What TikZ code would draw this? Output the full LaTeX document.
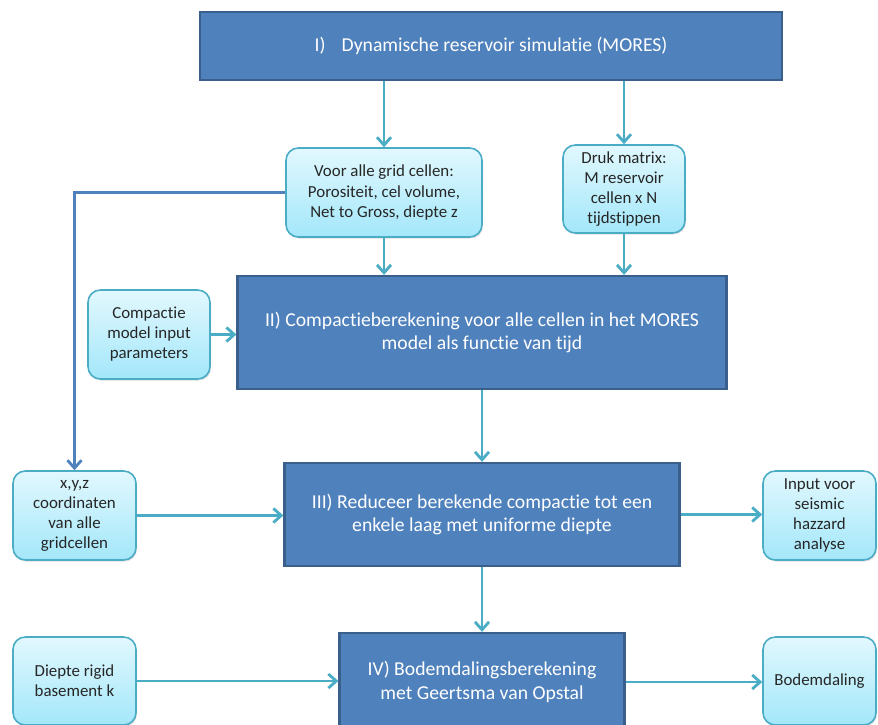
\documentclass[tikz,border=0pt]{standalone}
\usepackage{fontspec}
\setmainfont[Ligatures=NoCommon]{Carlito}
\usepackage{tikz}
\usetikzlibrary{arrows.meta,shadows}

\definecolor{stepblue}{HTML}{4F81BD}
\definecolor{stepedge}{HTML}{3A5F8C}
\definecolor{inputtop}{HTML}{E2F8FE}
\definecolor{inputbot}{HTML}{A3E7FA}
\definecolor{inputedge}{HTML}{4BACC6}
\definecolor{flowcol}{HTML}{4BACC6}

\begin{document}
\begin{tikzpicture}[x=0.02cm, y=-0.02cm,
  stepbox/.style={draw=stepedge, line width=1.3pt, fill=stepblue, text=white,
    align=center, font=\fontsize{11.2}{13.6}\selectfont, inner sep=0pt},
  inputbox/.style={draw=inputedge, line width=0.9pt, rounded corners=7pt,
    top color=inputtop, bottom color=inputbot, align=center,
    font=\fontsize{9.6}{11.4}\selectfont, inner sep=0pt, text=black!85,
    drop shadow={shadow xshift=0.6pt, shadow yshift=-0.9pt, opacity=0.25}},
  flow/.style={draw=flowcol, line width=1.6pt, -{Straight Barb[length=4.5pt, width=8pt, line width=1.6pt]}},
  link/.style={draw=stepblue, line width=1.6pt, -{Straight Barb[length=4.5pt, width=8pt, line width=1.6pt]}}
]
\useasboundingbox (0,0) rectangle (878,724);

% Main calculation steps
\node[stepbox, minimum width=11.64cm, minimum height=1.36cm] (mores) at (491,46)
  {I)\hspace{0.6em} Dynamische reservoir simulatie (MORES)};
\node[stepbox, minimum width=9.78cm, minimum height=2.26cm] (comp) at (482,332.5)
  {II) Compactieberekening voor alle cellen in het MORES\\model als functie van tijd};
\node[stepbox, minimum width=7.9cm, minimum height=2.06cm] (reduc) at (482,514.5)
  {III) Reduceer berekende compactie tot een\\enkele laag met uniforme diepte};
\node[stepbox, minimum width=5.7cm, minimum height=1.96cm] (bodem) at (482,682)
  {IV) Bodemdalingsberekening\\met Geertsma van Opstal};

% Input and output boxes
\node[inputbox, minimum width=3.92cm, minimum height=1.78cm] (grid) at (384,192.5)
  {Voor alle grid cellen:\\Porositeit, cel volume,\\Net to Gross, diepte z};
\node[inputbox, minimum width=2.44cm, minimum height=1.76cm] (druk) at (624,189)
  {Druk matrix:\\M reservoir\\cellen x N\\tijdstippen};
\node[inputbox, minimum width=2.44cm, minimum height=1.78cm] (param) at (149,334.5)
  {Compactie\\model input\\parameters};
\node[inputbox, minimum width=2.46cm, minimum height=1.78cm] (xyz) at (74.5,515.5)
  {x,y,z\\coordinaten\\van alle\\gridcellen};
\node[inputbox, minimum width=2.26cm, minimum height=1.78cm] (seis) at (819.5,515.5)
  {Input voor\\seismic\\hazzard\\analyse};
\node[inputbox, minimum width=2.46cm, minimum height=1.76cm] (rigid) at (74.5,681)
  {Diepte rigid\\basement k};
\node[inputbox, minimum width=2.26cm, minimum height=1.76cm] (daling) at (819.5,681)
  {Bodemdaling};

% Vertical flow
\draw[flow] (grid.north |- mores.south) -- (grid.north);
\draw[flow] (druk.north |- mores.south) -- (druk.north);
\draw[flow] (grid.south) -- (grid.south |- comp.north);
\draw[flow] (druk.south) -- (druk.south |- comp.north);
\draw[flow] (comp.south) -- (reduc.north);
\draw[flow] (reduc.south) -- (bodem.north);

% Horizontal flow
\draw[flow] (param.east) -- (param.east -| comp.west);
\draw[flow] (xyz.east) -- (xyz.east -| reduc.west);
\draw[flow] (reduc.east) -- (reduc.east -| seis.west);
\draw[flow] (rigid.east) -- (rigid.east -| bodem.west);
\draw[flow] (bodem.east) -- (bodem.east -| daling.west);

% Grid cells to coordinates
\draw[link] (grid.west) -| (xyz.north);

\end{tikzpicture}
\end{document}
